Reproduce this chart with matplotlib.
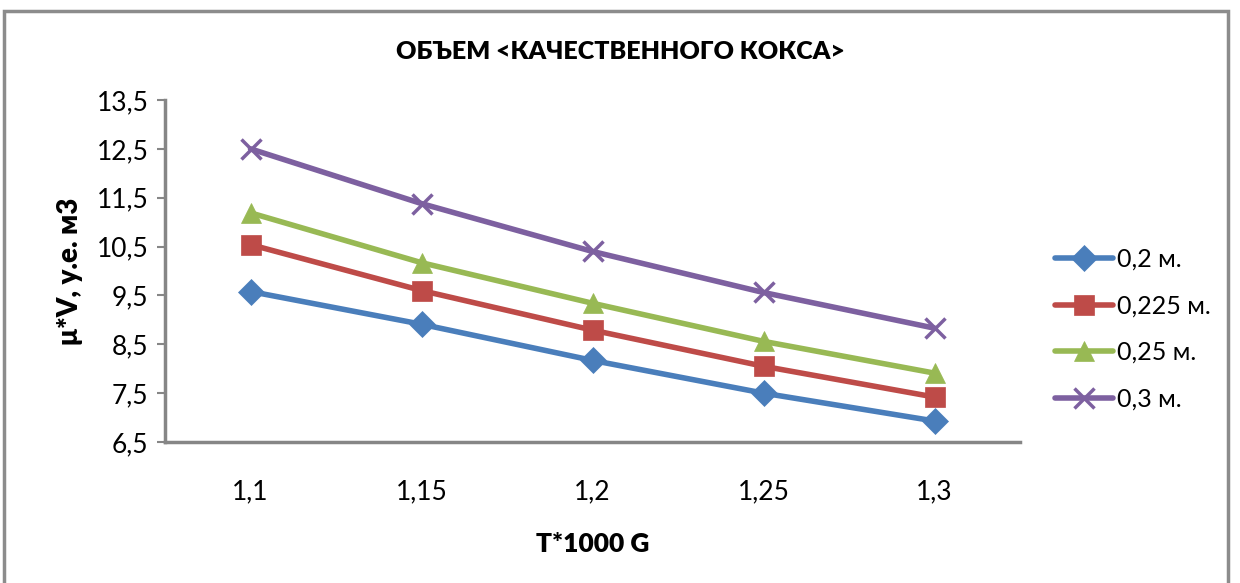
import matplotlib.pyplot as plt
from matplotlib.patches import Rectangle

plt.rcParams['font.family'] = ['Lato', 'DejaVu Sans']

# Data
categories = ["1,1", "1,15", "1,2", "1,25", "1,3"]
series_names = ["0,2 м.", "0,225 м.", "0,25 м.", "0,3 м."]
s_02 = [9.58, 8.91, 8.17, 7.50, 6.93]
s_0225 = [10.54, 9.60, 8.79, 8.05, 7.42]
s_025 = [11.19, 10.17, 9.34, 8.56, 7.91]
s_03 = [12.50, 11.38, 10.40, 9.56, 8.83]
yticks = [6.5, 7.5, 8.5, 9.5, 10.5, 11.5, 12.5, 13.5]

colors = ["#4a7ebb", "#be4b48", "#98b954", "#7d60a0"]
markers = ["D", "s", "^", "x"]
sizes = [13, 14, 15, 15]

fig = plt.figure(figsize=(12.4, 5.83), dpi=100)
ax = fig.add_axes([165 / 1240, 1 - 442 / 583, (1020 - 165) / 1240, (442 - 100) / 583])

# Outer chart frame
fig.patches.append(Rectangle((4 / 1240, -0.01), 1224 / 1240, 1 - 11 / 583 + 0.01,
                             transform=fig.transFigure, fill=False,
                             edgecolor="#8c8c8c", linewidth=2.5))

x = range(len(categories))
for vals, name, c, m, ms in zip([s_02, s_0225, s_025, s_03], series_names, colors, markers, sizes):
    ax.plot(x, vals, color=c, linewidth=4, marker=m, markersize=ms,
            markeredgewidth=2.5 if m == "x" else 0.5, markeredgecolor=c,
            markerfacecolor=c, label=name, solid_capstyle="round")

ax.set_xlim(-0.5, len(categories) - 0.5)
ax.set_ylim(6.5, 13.5)
ax.set_yticks(yticks)
ax.set_yticklabels([str(v).replace(".", ",") for v in yticks])
ax.set_xticks(list(x))
ax.set_xticklabels(categories)

for side in ["top", "right"]:
    ax.spines[side].set_visible(False)
for side in ["left", "bottom"]:
    ax.spines[side].set_color("#868686")
    ax.spines[side].set_linewidth(2.5)
ax.tick_params(axis="y", length=6, width=1.5, color="#868686", labelsize=19, pad=6)
ax.tick_params(axis="x", length=0, labelsize=19, pad=27)

# Chart title centred on the whole figure
fig.text(0.5, 1 - 52 / 583, "ОБЪЕМ <КАЧЕСТВЕННОГО КОКСА>", fontsize=18,
         fontweight="heavy", ha="center", va="center")
ax.set_xlabel("T*1000 G", fontsize=19, fontweight="heavy", labelpad=20)
ax.set_ylabel("μ*V, у.е. м3", fontsize=20, fontweight="heavy", labelpad=10)

ax.legend(loc="center left", bbox_to_anchor=(1.015, 0.33), frameon=False,
          fontsize=18, handlelength=2.3, labelspacing=0.95, handletextpad=0.15)

plt.savefig("out.png", dpi=100)
